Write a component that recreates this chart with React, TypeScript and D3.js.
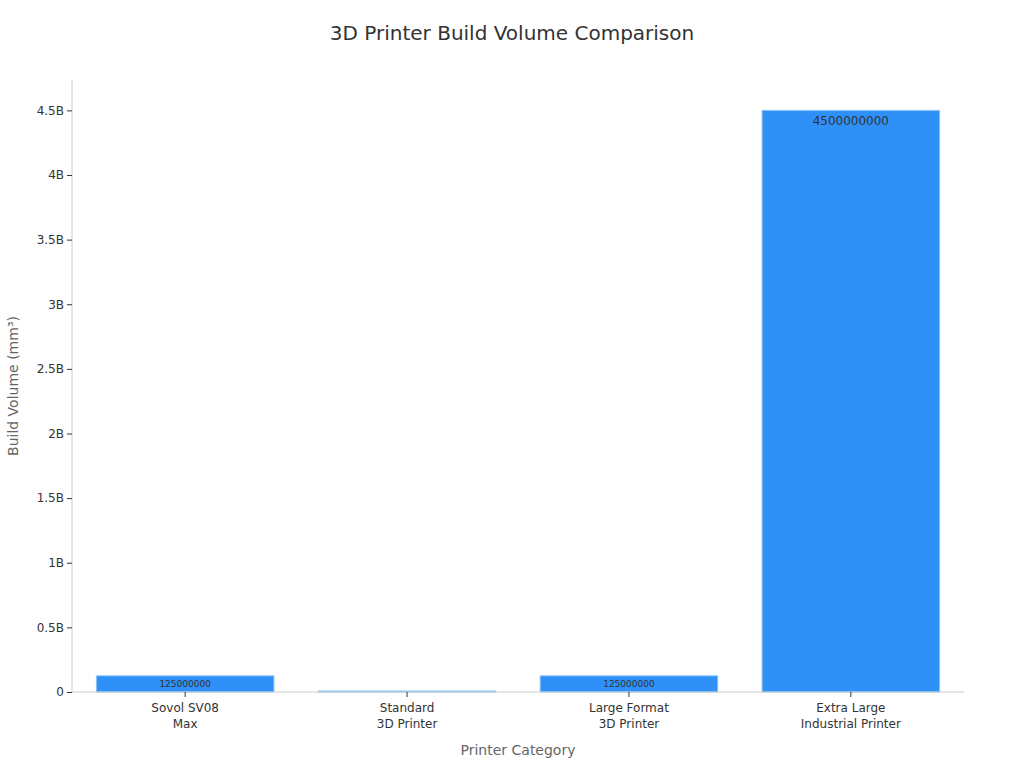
import * as d3 from 'd3';
import React, { useEffect, useRef } from 'react';

const categories = ['Sovol SV08\nMax', 'Standard\n3D Printer', 'Large Format\n3D Printer', 'Extra Large\nIndustrial Printer'];
const volumes = [125000000, 8000000, 125000000, 4500000000];
const yTicks = [0, 0.5e9, 1e9, 1.5e9, 2e9, 2.5e9, 3e9, 3.5e9, 4e9, 4.5e9];

const width = 1024;
const height = 768;
const margin = { top: 80, right: 60, bottom: 76, left: 72 };

const App = () => {
  const svgRef = useRef(null);

  useEffect(() => {
    const svg = d3.select(svgRef.current);
    svg.selectAll('*').remove();

    const innerW = width - margin.left - margin.right;
    const innerH = height - margin.top - margin.bottom;
    const font = '"DejaVu Sans", sans-serif';

    const rows = categories.map((c, i) => ({ cat: c, value: volumes[i] }));

    const x = d3.scaleBand().domain(categories).range([0, innerW]).paddingInner(0.2).paddingOuter(0.11);
    const y = d3.scaleLinear().domain([0, 4.735e9]).range([innerH, 0]);

    svg
      .append('text')
      .attr('x', width / 2)
      .attr('y', 40)
      .attr('text-anchor', 'middle')
      .style('font-family', font)
      .style('font-size', '20px')
      .style('fill', '#333')
      .text('3D Printer Build Volume Comparison');

    const g = svg.append('g').attr('transform', `translate(${margin.left},${margin.top})`);

    // bars
    g.selectAll('rect.bar')
      .data(rows)
      .enter()
      .append('rect')
      .attr('class', 'bar')
      .attr('x', (d) => x(d.cat))
      .attr('y', (d) => y(d.value))
      .attr('width', x.bandwidth())
      .attr('height', (d) => innerH - y(d.value))
      .style('fill', '#2f91f7')
      .style('stroke', '#8cc4f5')
      .style('stroke-width', 1);

    // value labels inside bars (skip bars too thin to hold text)
    g.selectAll('text.val')
      .data(rows.filter((d) => innerH - y(d.value) > 10))
      .enter()
      .append('text')
      .attr('class', 'val')
      .attr('x', (d) => x(d.cat) + x.bandwidth() / 2)
      .attr('y', (d) => (d.value > 1e9 ? y(d.value) + 15 : y(d.value) + 11))
      .attr('text-anchor', 'middle')
      .style('font-family', font)
      .style('font-size', (d) => (d.value > 1e9 ? '12px' : '9px'))
      .style('fill', '#333')
      .text((d) => String(d.value));

    // y axis
    const yAxis = g
      .append('g')
      .call(
        d3
          .axisLeft(y)
          .tickValues(yTicks)
          .tickSize(5)
          .tickFormat((d) => (d === 0 ? '0' : `${+d / 1e9}B`))
      );
    yAxis.select('.domain').attr('d', `M0,0V${innerH}`).style('stroke', '#ccc');
    yAxis.selectAll('.tick line').style('stroke', '#333');
    yAxis
      .selectAll('.tick text')
      .style('font-family', font)
      .style('font-size', '12px')
      .style('fill', '#333');

    // x axis
    const xAxis = g
      .append('g')
      .attr('transform', `translate(0,${innerH})`)
      .call(d3.axisBottom(x).tickSize(5).tickFormat(() => ''));
    xAxis.select('.domain').attr('d', `M0,0H${innerW}`).style('stroke', '#ccc');
    xAxis.selectAll('.tick line').style('stroke', '#333');
    xAxis
      .selectAll('.tick')
      .append('text')
      .attr('text-anchor', 'middle')
      .style('font-family', font)
      .style('font-size', '12px')
      .style('fill', '#333')
      .selectAll('tspan')
      .data((d) => String(d).split('\n'))
      .enter()
      .append('tspan')
      .attr('x', 0)
      .attr('y', (d, i) => 20 + i * 16)
      .text((d) => d);

    // axis titles
    svg
      .append('text')
      .attr('x', margin.left + innerW / 2)
      .attr('y', 755)
      .attr('text-anchor', 'middle')
      .style('font-family', font)
      .style('font-size', '14px')
      .style('fill', '#666')
      .text('Printer Category');

    svg
      .append('text')
      .attr('transform', `translate(18,${margin.top + innerH / 2}) rotate(-90)`)
      .attr('text-anchor', 'middle')
      .style('font-family', font)
      .style('font-size', '14px')
      .style('fill', '#666')
      .text('Build Volume (mm³)');
  }, []);

  return (
    <svg ref={svgRef} width={width} height={height} style={{ position: 'absolute', left: 0, top: 0, background: '#fff' }} />
  );
};

export default App;
